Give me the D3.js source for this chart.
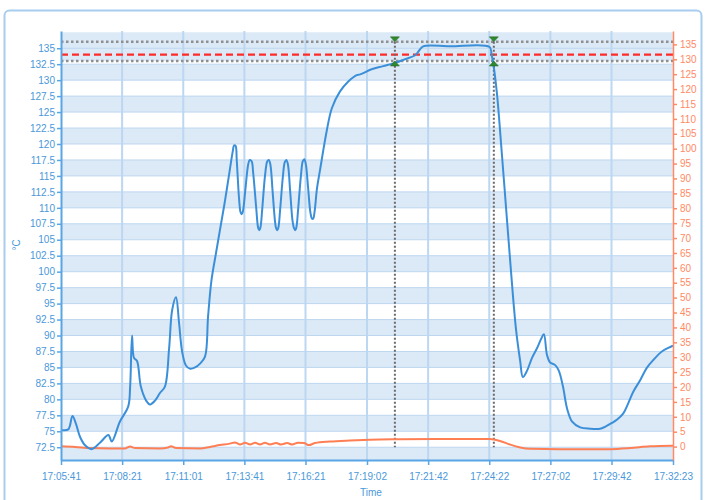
<!DOCTYPE html>
<html><head><meta charset="utf-8">
<script src="https://cdn.jsdelivr.net/npm/d3@7"></script>
<style>html,body{margin:0;padding:0;background:#fff;}svg{display:block;font-family:"Liberation Sans",Arial,sans-serif;}</style>
</head><body><svg id="c" width="708" height="500"></svg>
<script>
// ---- data ----
const startTime = "17:05:41";
const xTickLabels = ["17:05:41","17:08:21","17:11:01","17:13:41","17:16:21","17:19:02","17:21:42","17:24:22","17:27:02","17:29:42","17:32:23"];
const endTime = "17:32:23";
const leftTicks = [72.5,75,77.5,80,82.5,85,87.5,90,92.5,95,97.5,100,102.5,105,107.5,110,112.5,115,117.5,120,122.5,125,127.5,130,132.5,135];
const rightTicks = [0,5,10,15,20,25,30,35,40,45,50,55,60,65,70,75,80,85,90,95,100,105,110,115,120,125,130,135];
// blue series (left axis, °C): seconds since start, value
const blueSec = [0,19,30,39,50,63,80,102,124,133,154,176,181,186,191,199,209,223,233,246,259,272,283,291,301,309,317,327,338,351,364,377,385,394,406,416,429,442,450,453,457,460,466,470,473,476,482,490,494,499,503,511,516,519,522,527,534,540,544,548,554,560,563,566,569,574,581,586,590,594,600,606,610,613,616,621,628,633,637,641,647,653,657,660,664,670,678,696,709,730,752,774,783,813,843,874,901,927,937,948,1018,1122,1127,1131,1141,1152,1165,1178,1191,1202,1209,1220,1233,1246,1257,1264,1272,1280,1293,1303,1314,1325,1338,1359,1385,1411,1424,1442,1455,1472,1485,1498,1516,1533,1551,1573,1602];
const blueVal = [75.2,75.3,77.4,76.2,74.1,72.8,72.2,73.2,74.4,73.4,76.5,78.9,82,90,86.5,86,82,79.8,79.2,79.8,81,82,88,94,96,92,87.5,85.3,84.8,85,85.6,86.7,93,98.7,103,106.5,111,116,119,119.8,119.7,117.5,111.5,109.3,109,109.4,112.5,116.8,117.5,117.3,115.5,110,106.9,106.5,106.9,110,115,117.3,117.5,116.8,112.5,108,106.8,106.5,106.9,110,115,117.2,117.5,116.8,112.5,108,106.8,106.5,106.9,110,115,117.3,117.6,116.8,113,109.2,108.3,108.3,109.5,113,115.9,122.2,125.6,128.2,129.8,130.8,130.9,131.7,132.2,132.7,133.3,133.9,134.6,135.3,135.3,135.2,134,132.8,128,120,110,100,91,86,83.5,84.5,86.5,88,89.5,90.2,87,85.8,85.4,84.5,82,78.5,76.5,75.6,75.4,75.4,75.7,76.3,76.8,77.8,79.4,81.2,83.0,84.9,86.2,87.5,88.4];
// orange series (right axis)
const orangeSec = [0,37,76,128,168,181,194,259,280,288,301,364,390,416,442,455,469,482,495,508,521,534,547,563,576,592,605,620,636,649,665,704,757,809,887,1018,1123,1149,1175,1202,1228,1306,1437,1490,1542,1602];
const orangeVal = [0.1,-0.1,-0.5,-0.6,-0.6,0.0,-0.5,-0.6,-0.3,0.1,-0.5,-0.6,-0.1,0.5,1.0,1.4,0.7,1.3,0.7,1.3,0.7,1.3,0.7,1.2,0.7,1.2,0.7,1.3,1.2,0.5,1.2,1.7,2.05,2.3,2.45,2.55,2.55,1.9,0.7,-0.3,-0.75,-0.85,-0.85,-0.5,0.1,0.3];
// reference lines
const upperLimit = 136, setPoint = 134, lowerLimit = 133;
const markerTimes = ["17:20:15","17:24:34"];
const leftTitle = "°C", xTitle = "Time";

// ---- helpers ----
const toSec = s => { const p = s.split(":").map(Number); return p[0]*3600+p[1]*60+p[2]; };
const t0 = toSec(startTime);
const rel = s => toSec(s) - t0;

const svg = d3.select("#c");
const L = 61, R = 673, T = 31, B = 460;

const x = d3.scaleLinear().domain([0, rel(endTime)]).range([L, R]);
const yL = d3.scaleLinear().domain([70.5, 137.7]).range([B, T]);
const yR = d3.scaleLinear().domain([-4.5, 139.5]).range([B, T]);

// outer frame
svg.append("rect").attr("x",4.5).attr("y",10.5).attr("width",697).attr("height",500)
  .attr("rx",5).attr("fill","none").attr("stroke","#a8cdef").attr("stroke-width",2);

const bandColor = "#dce9f6", gridColor = "#bdd7f0";
// alternating bands: [k, k+2.5] where k is multiple of 5
const bandStarts = d3.range(70, 137.5, 5);
svg.append("g").selectAll("rect").data(bandStarts).join("rect")
  .attr("x", L).attr("width", R-L)
  .attr("y", d => yL(Math.min(d+2.5, 137.7)))
  .attr("height", d => yL(Math.max(d,70.5)) - yL(Math.min(d+2.5,137.7)))
  .attr("fill", bandColor);
// plot band between limits
svg.append("rect").attr("x",L).attr("width",R-L).attr("y",yL(upperLimit)).attr("height",yL(lowerLimit)-yL(upperLimit)).attr("fill",bandColor);

// horizontal grid
svg.append("g").selectAll("line").data(leftTicks).join("line")
  .attr("x1",L).attr("x2",R).attr("y1",d=>yL(d)).attr("y2",d=>yL(d))
  .attr("stroke",gridColor).attr("stroke-width",1);
// vertical grid
svg.append("g").selectAll("line").data(xTickLabels.slice(1,-1)).join("line")
  .attr("x1",d=>x(rel(d))).attr("x2",d=>x(rel(d))).attr("y1",T).attr("y2",B)
  .attr("stroke","#bcd7f1").attr("stroke-width",2);

// reference horizontal lines
svg.append("line").attr("x1",L).attr("x2",R).attr("y1",yL(upperLimit)).attr("y2",yL(upperLimit))
  .attr("stroke","#8f8f8f").attr("stroke-width",2.5).attr("stroke-dasharray","2.5,2.5");
svg.append("line").attr("x1",L).attr("x2",R).attr("y1",yL(lowerLimit)).attr("y2",yL(lowerLimit))
  .attr("stroke","#8f8f8f").attr("stroke-width",2.5).attr("stroke-dasharray","2.5,2.5");
svg.append("line").attr("x1",L).attr("x2",R).attr("y1",yL(setPoint)).attr("y2",yL(setPoint))
  .attr("stroke","#ff2a2a").attr("stroke-width",2.4).attr("stroke-dasharray","7,4");

// vertical marker lines
svg.append("g").selectAll("line").data(markerTimes).join("line")
  .attr("x1",d=>x(rel(d))).attr("x2",d=>x(rel(d)))
  .attr("y1",yL(upperLimit)).attr("y2",yL(72.5))
  .attr("stroke","#6a6a6a").attr("stroke-width",2).attr("stroke-dasharray","2,2");

// series
const blue = blueSec.map((s,i)=>[s, blueVal[i]]);
const orange = orangeSec.map((s,i)=>[s, orangeVal[i]]);
svg.append("path").datum(orange)
  .attr("d", d3.line().x(d=>x(d[0])).y(d=>yR(d[1])).curve(d3.curveMonotoneX))
  .attr("fill","none").attr("stroke","#ff7f55").attr("stroke-width",2);
svg.append("path").datum(blue)
  .attr("d", d3.line().x(d=>x(d[0])).y(d=>yL(d[1])).curve(d3.curveCatmullRom.alpha(0.5)))
  .attr("fill","none").attr("stroke","#3b8fd9").attr("stroke-width",2);

// markers (triangles)
const tri = (cx, tipY, dir) => {
  const h = 5, w = 4.5;
  const by = tipY - dir*h;
  return `M${cx-w},${by}L${cx+w},${by}L${cx},${tipY}Z`;
};
markerTimes.forEach(m => {
  const cx = x(rel(m));
  svg.append("path").attr("d", tri(cx, yL(upperLimit), 1)).attr("fill","#2f8a2f").attr("stroke","#1d5e1d").attr("stroke-width",0.5);
  svg.append("path").attr("d", tri(cx, yL(lowerLimit), -1)).attr("fill","#2f8a2f").attr("stroke","#1d5e1d").attr("stroke-width",0.5);
});

// axes
const blueAxis = "#5aa5e6", blueText = "#4a98da", orangeAxis = "#ff8a65";
const gx = svg.append("g").attr("transform",`translate(0,${B})`)
  .call(d3.axisBottom(x).tickValues(xTickLabels.map(rel)).tickFormat((d,i)=>xTickLabels[i]).tickSize(5).tickSizeOuter(0));
gx.select(".domain").attr("stroke",blueAxis).attr("stroke-width",2);
gx.selectAll(".tick line").attr("stroke",blueAxis).attr("stroke-width",1.5);
gx.selectAll("text").attr("fill",blueText).attr("font-size",10).attr("dy","1.2em").attr("font-family","Liberation Sans, Arial, sans-serif");

const gl = svg.append("g").attr("transform",`translate(${L},0)`)
  .call(d3.axisLeft(yL).tickValues(leftTicks).tickFormat(d=>String(d)).tickSize(4).tickSizeOuter(0));
gl.select(".domain").attr("stroke",blueAxis).attr("stroke-width",2);
gl.selectAll(".tick line").attr("stroke",blueAxis).attr("stroke-width",1.5);
gl.selectAll("text").attr("fill",blueText).attr("font-size",10).attr("x",-6).attr("font-family","Liberation Sans, Arial, sans-serif");

const gr = svg.append("g").attr("transform",`translate(${R},0)`)
  .call(d3.axisRight(yR).tickValues(rightTicks).tickFormat(d=>String(d)).tickSize(4).tickSizeOuter(0));
gr.select(".domain").attr("stroke",orangeAxis).attr("stroke-width",1.5);
gr.selectAll(".tick line").attr("stroke",orangeAxis).attr("stroke-width",1.5);
gr.selectAll("text").attr("fill",orangeAxis).attr("font-size",10).attr("x",7).attr("font-family","Liberation Sans, Arial, sans-serif");

// titles
svg.append("text").attr("transform","translate(20,245) rotate(-90)").attr("text-anchor","middle")
  .attr("fill",blueText).attr("font-size",10).text(leftTitle);
svg.append("text").attr("x",(L+R)/2+4).attr("y",496).attr("text-anchor","middle")
  .attr("fill",blueText).attr("font-size",10).text(xTitle);
</script></body></html>
